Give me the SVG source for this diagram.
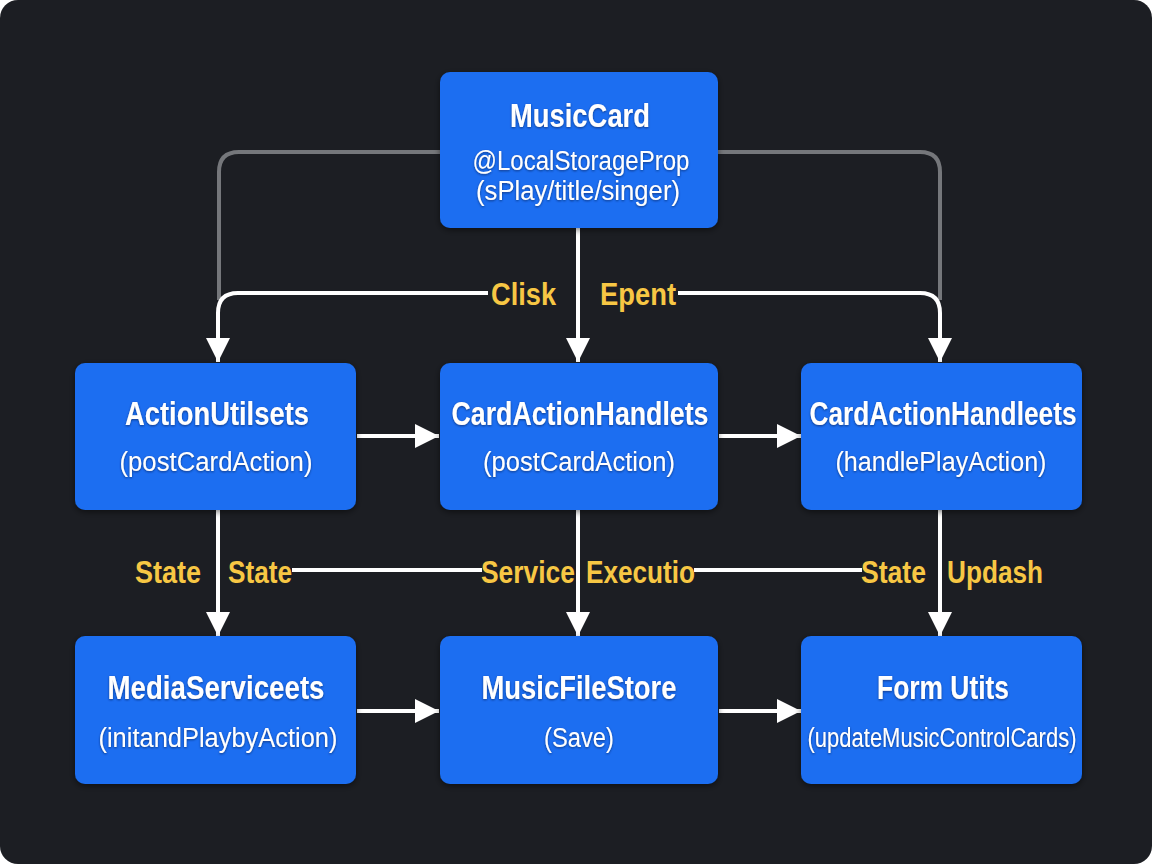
<svg xmlns="http://www.w3.org/2000/svg" width="1152" height="864" viewBox="0 0 1152 864">
<style>
.box{fill:#1b6ef1;}
.t{font-family:"Liberation Sans",Arial,sans-serif;font-weight:bold;font-size:33px;fill:#ffffff;text-anchor:middle;}
.s{font-family:"Liberation Sans",Arial,sans-serif;font-size:27px;fill:#ffffff;text-anchor:middle;}
.l{font-family:"Liberation Sans",Arial,sans-serif;font-weight:bold;font-size:32px;fill:#f7c744;}
.w{fill:none;stroke:#ffffff;stroke-width:4;}
.g{fill:none;stroke:#75777b;stroke-width:4;}
</style>
<defs>
<marker id="ah" viewBox="0 0 10 10" refX="10" refY="5" markerWidth="6" markerHeight="6" orient="auto" markerUnits="strokeWidth">
<path d="M0,0 L10,5 L0,10 z" fill="#ffffff"/>
</marker>
<filter id="sh" x="-10%" y="-10%" width="120%" height="130%">
<feDropShadow dx="0" dy="2" stdDeviation="3" flood-color="#000000" flood-opacity="0.5"/>
</filter>
<filter id="ts" x="-5%" y="-20%" width="110%" height="140%">
<feDropShadow dx="0" dy="1" stdDeviation="1" flood-color="#0a2a6a" flood-opacity="0.8"/>
</filter>
</defs>
<rect x="0" y="0" width="1152" height="864" fill="#ffffff"/>
<rect x="0" y="0" width="1152" height="864" rx="18" fill="#1c1e23"/>

<g id="connectors">
<path class="g" d="M440,152 H239 Q219,152 219,172 V300"/>
<path class="g" d="M718,152 H920 Q940,152 940,172 V300"/>
<path class="w" d="M488,293 H238 Q218,293 218,313 V362" marker-end="url(#ah)"/>
<path class="w" d="M678,293 H920 Q940,293 940,313 V362" marker-end="url(#ah)"/>
<path class="w" d="M578,228 V362" marker-end="url(#ah)"/>
<path class="w" d="M357,436 H439" marker-end="url(#ah)"/>
<path class="w" d="M719,436 H801" marker-end="url(#ah)"/>
<path class="w" d="M357,711 H439" marker-end="url(#ah)"/>
<path class="w" d="M719,711 H801" marker-end="url(#ah)"/>
<path class="w" d="M218,510 V636" marker-end="url(#ah)"/>
<path class="w" d="M578,510 V636" marker-end="url(#ah)"/>
<path class="w" d="M940,510 V636" marker-end="url(#ah)"/>
<path class="w" d="M292,570 H482"/>
<path class="w" d="M694,570 H862"/>
<text class="l" x="491" y="305" textLength="65" lengthAdjust="spacingAndGlyphs">Clisk</text>
<text class="l" x="600" y="305" textLength="76" lengthAdjust="spacingAndGlyphs">Epent</text>
<text class="l" x="135" y="583" textLength="66" lengthAdjust="spacingAndGlyphs">State</text>
<text class="l" x="228" y="583" textLength="64" lengthAdjust="spacingAndGlyphs">State</text>
<text class="l" x="481" y="583" textLength="94" lengthAdjust="spacingAndGlyphs">Service</text>
<text class="l" x="586" y="583" textLength="109" lengthAdjust="spacingAndGlyphs">Executio</text>
<text class="l" x="861" y="583" textLength="65" lengthAdjust="spacingAndGlyphs">State</text>
<text class="l" x="947" y="583" textLength="96" lengthAdjust="spacingAndGlyphs">Updash</text>
</g>

<g id="musiccard">
<rect class="box" x="440" y="72" width="278" height="156" rx="10" filter="url(#sh)"/>
<text class="t" x="580" y="127" textLength="140" lengthAdjust="spacingAndGlyphs" filter="url(#ts)">MusicCard</text>
<text class="s" x="581" y="170" textLength="217" lengthAdjust="spacingAndGlyphs" filter="url(#ts)">@LocalStorageProp</text>
<text class="s" x="578" y="200" textLength="204" lengthAdjust="spacingAndGlyphs" filter="url(#ts)">(sPlay/title/singer)</text>
</g>

<g id="actionutilsets">
<rect class="box" x="75" y="363" width="281" height="147" rx="10" filter="url(#sh)"/>
<text class="t" x="217" y="425" textLength="184" lengthAdjust="spacingAndGlyphs" filter="url(#ts)">ActionUtilsets</text>
<text class="s" x="216" y="471" textLength="193" lengthAdjust="spacingAndGlyphs" filter="url(#ts)">(postCardAction)</text>
</g>

<g id="cardactionhandlets">
<rect class="box" x="440" y="363" width="278" height="147" rx="10" filter="url(#sh)"/>
<text class="t" x="580" y="425" textLength="257" lengthAdjust="spacingAndGlyphs" filter="url(#ts)">CardActionHandlets</text>
<text class="s" x="579" y="471" textLength="192" lengthAdjust="spacingAndGlyphs" filter="url(#ts)">(postCardAction)</text>
</g>

<g id="cardactionhandleets">
<rect class="box" x="801" y="363" width="281" height="147" rx="10" filter="url(#sh)"/>
<text class="t" x="943" y="425" textLength="267" lengthAdjust="spacingAndGlyphs" filter="url(#ts)">CardActionHandleets</text>
<text class="s" x="941" y="471" textLength="211" lengthAdjust="spacingAndGlyphs" filter="url(#ts)">(handlePlayAction)</text>
</g>

<g id="mediaserviceets">
<rect class="box" x="75" y="636" width="281" height="148" rx="10" filter="url(#sh)"/>
<text class="t" x="216" y="699" textLength="217" lengthAdjust="spacingAndGlyphs" filter="url(#ts)">MediaServiceets</text>
<text class="s" x="218" y="747" textLength="239" lengthAdjust="spacingAndGlyphs" filter="url(#ts)">(initandPlaybyAction)</text>
</g>

<g id="musicfilestore">
<rect class="box" x="440" y="636" width="278" height="148" rx="10" filter="url(#sh)"/>
<text class="t" x="579" y="699" textLength="195" lengthAdjust="spacingAndGlyphs" filter="url(#ts)">MusicFileStore</text>
<text class="s" x="579" y="747" textLength="70" lengthAdjust="spacingAndGlyphs" filter="url(#ts)">(Save)</text>
</g>

<g id="formutits">
<rect class="box" x="801" y="636" width="281" height="148" rx="10" filter="url(#sh)"/>
<text class="t" x="943" y="699" textLength="132" lengthAdjust="spacingAndGlyphs" filter="url(#ts)">Form Utits</text>
<text class="s" x="942" y="747" textLength="269" lengthAdjust="spacingAndGlyphs" filter="url(#ts)">(updateMusicControlCards)</text>
</g>
</svg>
